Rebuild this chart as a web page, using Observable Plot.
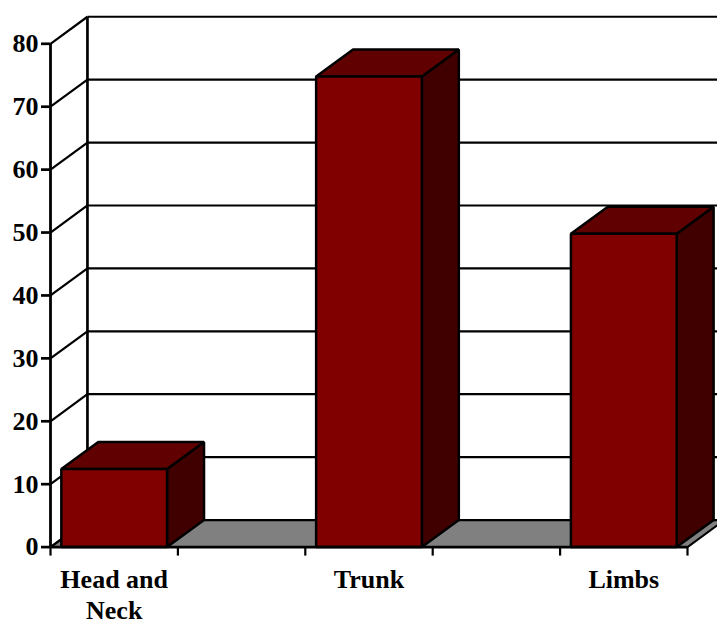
<!DOCTYPE html>
<html><head><meta charset="utf-8">
<script src="https://cdn.jsdelivr.net/npm/d3@7"></script>
<script src="https://cdn.jsdelivr.net/npm/@observablehq/plot@0.6"></script>
<style>body{margin:0;background:#fff;overflow:hidden}</style>
</head><body><div id="chart"></div>
<script>
// ---- data ----
const categories = ["Head and\nNeck", "Trunk", "Limbs"];
const values = [12.4, 74.8, 49.8];
const yTicks = [0, 10, 20, 30, 40, 50, 60, 70, 80];
const xTickSlots = [0, 1, 2, 3, 4, 5];

// ---- layout constants (in scale units) ----
const SLOT_END = 5;
const BAR_HALF = 0.415;
const DX = 0.29, DY = 4.3; // oblique depth offset

const bars = categories.map((c, i) => ({c, v: values[i], cx: i * 2 + 0.5}));
bars.forEach(b => { b.x0 = b.cx - BAR_HALF; b.x1 = b.cx + BAR_HALF; });

const poly = (pts, id) => pts.map(([x, y]) => ({x, y, id}));
const fronts = bars.flatMap(b => poly([[b.x0,0],[b.x1,0],[b.x1,b.v],[b.x0,b.v]], b.c));
const tops = bars.flatMap(b => poly([[b.x0,b.v],[b.x1,b.v],[b.x1+DX,b.v+DY],[b.x0+DX,b.v+DY]], b.c));
const sides = bars.flatMap(b => poly([[b.x1,0],[b.x1+DX,DY],[b.x1+DX,b.v+DY],[b.x1,b.v]], b.c));
const floor = poly([[0,0],[SLOT_END,0],[SLOT_END+DX,DY],[DX,DY]], "floor");

const faceOpts = {x: "x", y: "y", z: "id", stroke: "black", strokeWidth: 2.5, strokeLinejoin: "miter", curve: "linear-closed"};

const chart = Plot.plot({
  width: 717,
  height: 623,
  marginLeft: 50,
  marginRight: 30,
  marginTop: 43.3,
  marginBottom: 76.4,
  x: {type: "linear", domain: [0, SLOT_END]},
  y: {type: "linear", domain: [0, 80]},
  style: {fontFamily: "'Liberation Serif', 'Times New Roman', serif", fontSize: "26px", fontWeight: "bold", background: "white", color: "black"},
  marks: [
    // floor
    Plot.line(floor, {...faceOpts, fill: "#808080", strokeWidth: 2}),
    // left wall diagonals
    Plot.link(yTicks, {x1: () => 0, y1: d => d, x2: () => DX, y2: d => d + DY, stroke: "black", strokeWidth: 2.2}),
    // back wall gridlines
    Plot.link(yTicks, {x1: () => DX, y1: d => d + DY, x2: () => SLOT_END + DX + 1, y2: d => d + DY, stroke: "black", strokeWidth: 2.2}),
    // back wall left edge
    Plot.link([0], {x1: () => DX, y1: () => DY, x2: () => DX, y2: () => 80 + DY, stroke: "black", strokeWidth: 2.7}),
    // front y axis line
    Plot.ruleX([0], {y1: 0, y2: 80, stroke: "black", strokeWidth: 2.8}),
    // bars
    Plot.line(sides, {...faceOpts, fill: "#400000"}),
    Plot.line(tops, {...faceOpts, fill: "#600000"}),
    Plot.line(fronts, {...faceOpts, fill: "#800000"}),
    // x axis line
    Plot.ruleY([0], {x1: 0, x2: SLOT_END, stroke: "black", strokeWidth: 2.8}),
    // axes
    Plot.axisY(yTicks, {anchor: "left", tickSize: 9, tickPadding: 3, strokeWidth: 2.7, fontSize: 26, fontWeight: "bold", label: null}),
    Plot.axisX(xTickSlots, {anchor: "bottom", tickSize: 9, strokeWidth: 2.2, tickFormat: () => "", label: null}),
    Plot.axisX(bars.map(b => b.cx), {anchor: "bottom", tickSize: 0, tickPadding: 19, fontSize: 26, fontWeight: "bold", lineHeight: 1.2,
      tickFormat: d => categories[Math.round((d - 0.5) / 2)], label: null})
  ]
});
document.getElementById("chart").appendChild(chart);
</script>
</body></html>
